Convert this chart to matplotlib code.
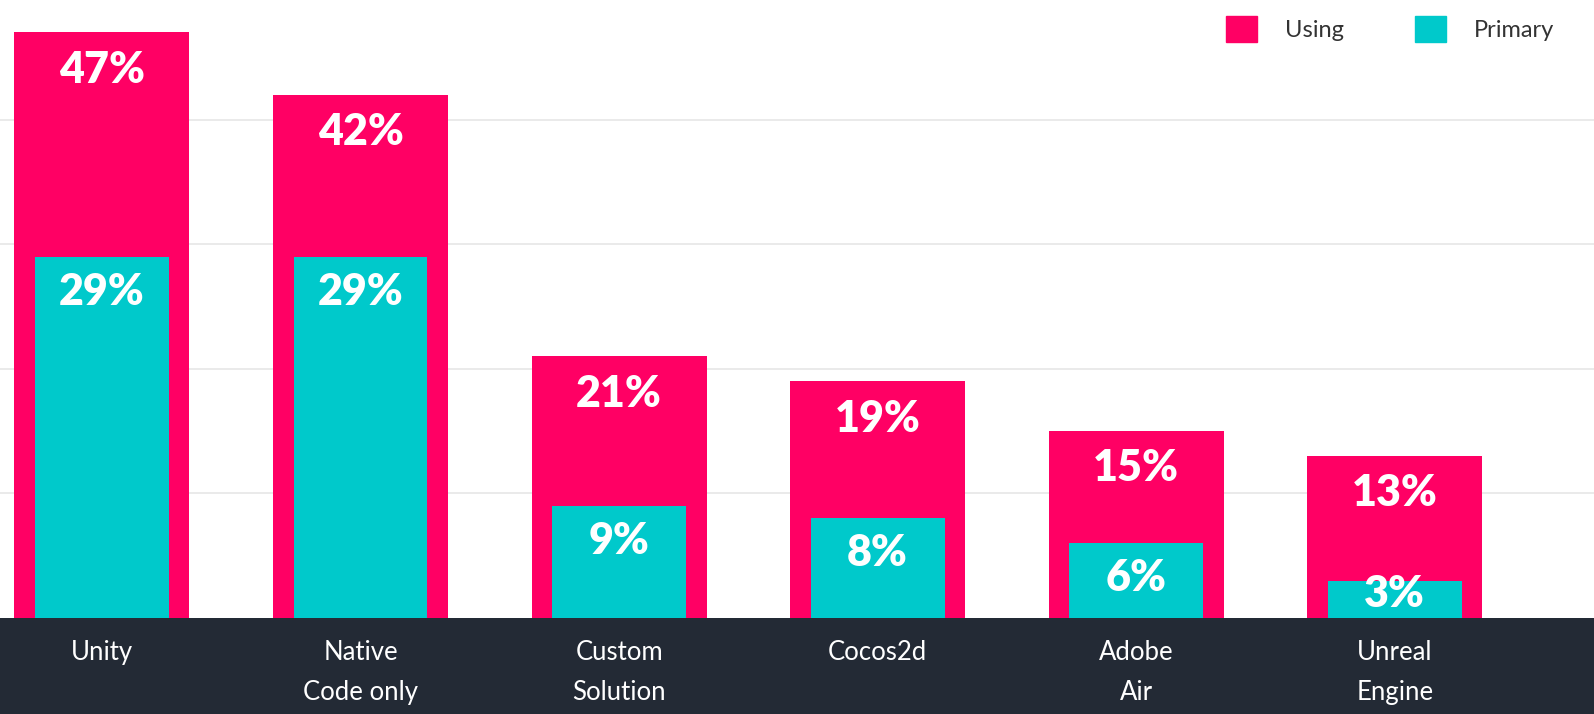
import matplotlib.pyplot as plt
from matplotlib.patches import Patch

engines = ["Unity", "Native\nCode only", "Custom\nSolution", "Cocos2d", "Adobe\nAir", "Unreal\nEngine"]
using = [47, 42, 21, 19, 15, 13]
primary = [29, 29, 9, 8, 6, 3]

pink = "#FF0064"
teal = "#00C9CB"
band = "#232A35"

plt.rcParams['font.family'] = ['Lato', 'DejaVu Sans']

fig = plt.figure(figsize=(15.94, 7.14), dpi=100)
fig.patch.set_facecolor("white")

# main plot area above the dark band
ax = fig.add_axes([0, 96 / 714, 1, 618 / 714])
x = list(range(len(engines)))
ax.bar(x, using, width=0.677, color=pink, zorder=2)
ax.bar(x, primary, width=0.518, color=teal, zorder=3)

for xi, u, p in zip(x, using, primary):
    ax.text(xi, u - 3.0, f"{u}%", ha="center", va="center", color="white",
            fontsize=31, fontweight="heavy", zorder=4)
    ax.text(xi, max(p - 2.8, 1.9), f"{p}%", ha="center", va="center", color="white",
            fontsize=31, fontweight="heavy", zorder=4)

ax.set_xlim(-0.394, 5.77)
ax.set_ylim(0, 49.6)
ax.set_yticks([10, 20, 30, 40])
ax.grid(axis="y", color="#E6E6E6", linewidth=1.2, zorder=0)
ax.tick_params(left=False, bottom=False, labelleft=False, labelbottom=False)
for s in ax.spines.values():
    s.set_visible(False)

handles = [Patch(color=pink, label="Using"), Patch(color=teal, label="Primary")]
ax.legend(handles=handles, loc="upper right", bbox_to_anchor=(0.99, 1.012), ncol=2,
          frameon=False, fontsize=17, handlelength=1.3, handleheight=1.3,
          columnspacing=3.0, handletextpad=1.2, labelcolor="#333333",
          borderaxespad=0.6)

# dark band with category names
bx = fig.add_axes([0, 0, 1, 96 / 714])
bx.set_facecolor(band)
bx.set_xlim(-0.394, 5.77)
bx.set_ylim(0, 1)
for xi, name in zip(x, engines):
    bx.text(xi, 0.77, name, ha="center", va="top", color="white",
            fontsize=18.5, linespacing=1.75)
bx.set_xticks([])
bx.set_yticks([])
for s in bx.spines.values():
    s.set_visible(False)

fig.savefig("out.png", dpi=100, facecolor=fig.get_facecolor())
